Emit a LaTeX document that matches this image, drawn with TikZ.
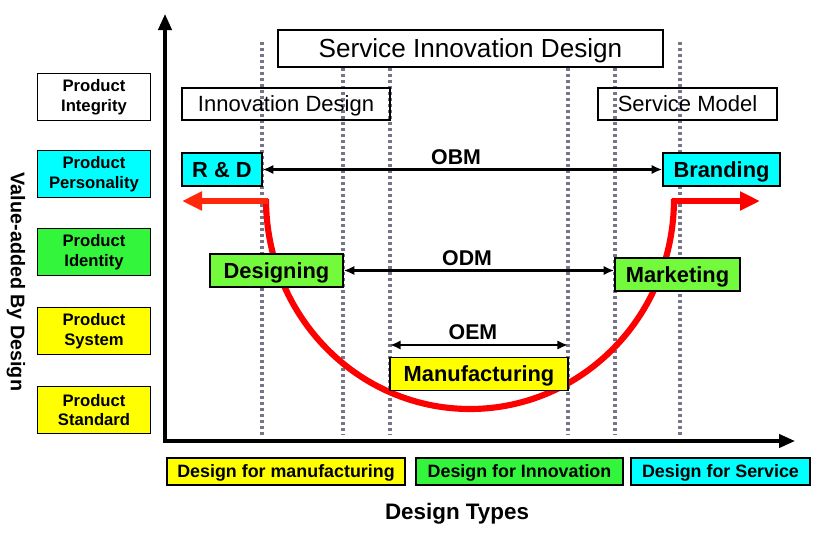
\documentclass[tikz,border=0pt]{standalone}
\usepackage{fontspec}
\setmainfont{Liberation Sans}
\usetikzlibrary{arrows.meta}
\definecolor{cyanbox}{RGB}{0,255,255}
\definecolor{greenbox}{RGB}{51,245,60}
\definecolor{lightgreen}{RGB}{115,250,60}
\definecolor{yellowbox}{RGB}{255,255,0}
\definecolor{dotgray}{RGB}{118,118,134}
\definecolor{redcurve}{RGB}{255,0,0}
\definecolor{redarrow}{RGB}{255,40,10}
\begin{document}
\begin{tikzpicture}[x=0.75pt,y=-0.75pt,
  box/.style={draw=black, line width=1.1pt, inner sep=0pt, align=center},
  sidebox/.style={box, minimum width=84.75pt, minimum height=35.5pt,
     font=\bfseries\fontsize{12.5}{14.8}\selectfont},
  botbox/.style={box, text height=9.6pt, text depth=0pt, minimum height=20.25pt, font=\bfseries\fontsize{13.4}{15}\selectfont},
  stagebox/.style={box, text height=11.7pt, text depth=0pt, minimum height=24.75pt, font=\bfseries\fontsize{16.4}{18}\selectfont},
  headbox/.style={box, text height=11.8pt, text depth=0pt, minimum height=24pt, font=\fontsize{16.5}{18}\selectfont},
  dotline/.style={draw=dotgray, line width=2.3pt, dash pattern=on 2.25pt off 2.25pt},
  axis/.style={line width=2.4pt, line join=miter, {Triangle[length=12pt,width=10pt]}-{Triangle[length=12pt,width=10pt]}},
  dblarrow/.style={line width=1.6pt, {Latex[length=8pt,width=7pt]}-{Latex[length=8pt,width=7pt]}},
  modelabel/.style={font=\bfseries\fontsize{16}{18}\selectfont, inner sep=0pt},
  uline/.style={draw=redcurve, line width=4.6pt},
  redarr/.style={draw=redarrow, fill=redarrow, line width=4.6pt, -{Triangle[length=15pt,width=13.5pt]}}
]
\useasboundingbox (0,0) rectangle (815,544);

% dotted guide lines
\coordinate (d1t) at (262,42);  \coordinate (d1b) at (262,435);
\coordinate (d2t) at (343,68);  \coordinate (d2b) at (343,435);
\coordinate (d3t) at (390,68);  \coordinate (d3b) at (390,435);
\coordinate (d4t) at (568,68);  \coordinate (d4b) at (568,435);
\coordinate (d5t) at (615,68);  \coordinate (d5b) at (615,435);
\coordinate (d6t) at (680,42);  \coordinate (d6b) at (680,435);
\foreach \i in {1,...,6} \draw[dotline] (d\i t) -- (d\i b);

% axes
\coordinate (ytop) at (165,14);
\coordinate (orig) at (165,441);
\coordinate (xend) at (795,441);
\draw[axis] (ytop) -- (orig) -- (xend);

% red U curve and arrows
\coordinate (cl) at (266,199);
\coordinate (cr) at (674,199);
\coordinate (al) at (182,201);
\coordinate (ar) at (760,201);
\coordinate (bot) at (470,409);
\draw[uline] (cl) .. controls (266,316) and (358,409) .. (bot)
                  .. controls (582,409) and (674,316) .. (cr);
\draw[redarr] ([xshift=1.5pt]cl |- al) -- (al);
\draw[redarr, draw=redcurve, fill=redcurve] ([xshift=-1.5pt]cr |- ar) -- (ar);

% header boxes
\node[headbox, minimum width=288.75pt, minimum height=27.75pt, text height=14pt, font=\fontsize{19.6}{21}\selectfont] (sid) at (470.5,48.5) {Service Innovation Design};
\node[headbox, minimum width=156pt] (innov) at (286,104) {Innovation Design};
\node[headbox, minimum width=134.25pt] (servm) at (687.5,104) {Service Model};

% stage boxes
\node[stagebox, fill=cyanbox, minimum width=60pt] (rd) at (222,169.5) {R \& D};
\node[stagebox, fill=cyanbox, minimum width=87.75pt] (brand) at (721.5,169.5) {Branding};
\node[stagebox, fill=lightgreen, minimum width=99.75pt] (design) at (276.5,270.5) {Designing};
\node[stagebox, fill=lightgreen, minimum width=93.75pt] (market) at (677.5,274.5) {Marketing};
\node[stagebox, fill=yellowbox, minimum width=133.5pt] (manu) at (479,374) {Manufacturing};

% double arrows
\draw[dblarrow] (rd.east) -- node[modelabel, pos=0.484, above=3pt] (obm) {OBM} (rd.east -| brand.west);
\draw[dblarrow] (design.east) -- node[modelabel, pos=0.456, above=3pt] (odm) {ODM} (design.east -| market.west);
\coordinate (oeml) at (390,345);
\coordinate (oemr) at (568,345);
\draw[dblarrow] (oeml) -- node[modelabel, pos=0.466, above=3.5pt] (oem) {OEM} (oemr);

% side boxes
\node[sidebox, fill=white] (pint) at (94,97) {Product\\Integrity};
\node[sidebox, fill=cyanbox] (ppers) at (94,174) {Product\\Personality};
\node[sidebox, fill=greenbox] (pid) at (94,252) {Product\\Identity};
\node[sidebox, fill=yellowbox] (psys) at (94,331) {Product\\System};
\node[sidebox, fill=yellowbox] (pstd) at (94,410) {Product\\Standard};

% y label
\node[rotate=-90, font=\bfseries\fontsize{14.8}{16}\selectfont, inner sep=0pt] (ylab) at (16,282) {Value-added By Design};

% bottom boxes
\node[botbox, fill=yellowbox, minimum width=178.5pt] (dfm) at (286,471.5) {Design for manufacturing};
\node[botbox, fill=greenbox, minimum width=155.25pt] (dfi) at (519.5,471.5) {Design for Innovation};
\node[botbox, fill=cyanbox, minimum width=134.25pt] (dfs) at (720.5,471.5) {Design for Service};

\node[font=\bfseries\fontsize{16.8}{18}\selectfont, inner sep=0pt] (dtypes) at (457,514) {Design Types};
\end{tikzpicture}
\end{document}
